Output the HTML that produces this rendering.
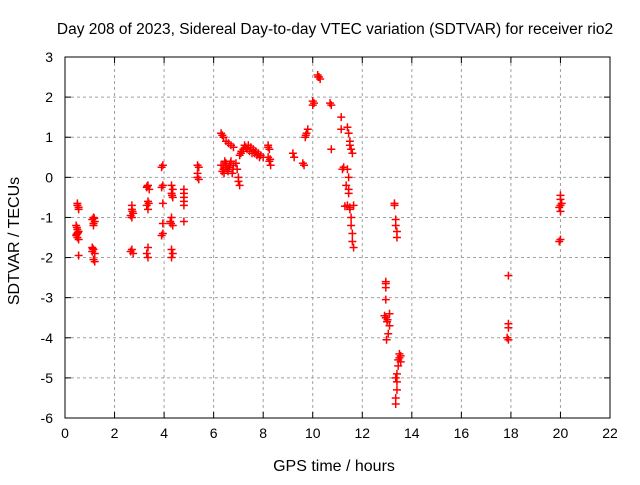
<!DOCTYPE html>
<html><head><meta charset="utf-8"><style>
body{margin:0;background:#fff;font-family:"Liberation Sans",sans-serif}
svg text{font-family:"Liberation Sans",sans-serif;fill:#000}
</style></head><body>
<svg id="c" width="640" height="480">
<rect width="640" height="480" fill="#fff"/>
<text x="335" y="34" font-size="15.5" text-anchor="middle">Day 208 of 2023, Sidereal Day-to-day VTEC variation (SDTVAR) for receiver rio2</text>
<text x="334" y="471" font-size="16" text-anchor="middle">GPS time / hours</text>
<text transform="translate(19,241) rotate(-90)" font-size="16" text-anchor="middle">SDTVAR / TECUs</text>
<g id="grid"></g><g id="pts"></g>
<rect x="65" y="57" width="545" height="361" fill="none" stroke="#000"/>
</svg>
<script>
const xTicks=[0,2,4,6,8,10,12,14,16,18,20,22];
const yTicks=[3,2,1,0,-1,-2,-3,-4,-5,-6];
const xs=[0.5,0.5,0.55,0.55,0.45,0.5,0.55,0.5,0.45,0.5,0.55,0.55,0.48,0.52,0.47,
1.15,1.1,1.2,1.15,1.1,1.15,1.1,1.2,1.15,1.2,1.15,1.12,1.18,
2.7,2.7,2.75,2.65,2.7,2.7,2.65,2.75,2.72,
3.35,3.3,3.4,3.35,3.3,3.35,3.35,3.3,3.35,3.38,3.32,
3.95,3.9,3.95,3.9,3.95,3.95,3.95,3.9,
4.3,4.35,4.3,4.35,4.3,4.25,4.35,4.3,4.35,4.3,4.32,4.28,
4.8,4.8,4.8,4.8,4.8,4.8,
5.35,5.4,5.35,5.35,5.4,
6.3,6.35,6.4,6.5,6.6,6.7,6.8,6.3,6.4,6.5,6.6,6.7,6.8,6.9,6.35,6.45,6.55,6.65,6.75,7.0,7.0,7.05,6.95,6.38,6.48,6.58,6.68,6.78,6.42,6.52,6.62,
7.1,7.2,7.3,7.4,7.5,7.6,7.7,7.8,7.9,8.0,7.15,7.25,7.35,7.45,7.55,7.65,7.75,7.85,7.05,7.12,
8.2,8.25,8.2,8.25,8.3,8.2,8.28,
9.2,9.25,9.6,9.65,9.7,9.75,9.8,9.72,
10.0,10.05,10.0,10.2,10.25,10.3,10.22,
10.7,10.75,10.75,
11.15,11.15,11.2,11.25,11.4,11.45,11.5,11.5,11.55,11.6,11.4,11.45,11.35,11.45,11.4,11.5,11.55,11.55,11.6,11.6,11.65,11.65,11.3,11.5,11.45,
13.3,13.3,13.35,13.35,13.4,13.4,
12.95,12.95,12.95,12.95,12.9,12.95,13.0,13.1,13.1,13.05,12.98,13.02,
13.5,13.55,13.5,13.55,13.45,13.4,13.4,13.4,13.35,13.35,13.35,13.45,
17.9,17.9,17.9,17.85,17.9,
20.0,20.0,20.05,20.0,19.95,20.0,20.0,19.95];
const ys=[-0.65,-0.7,-0.75,-0.8,-1.2,-1.3,-1.35,-1.4,-1.45,-1.5,-1.55,-1.95,-1.25,-1.38,-1.42,
-1.0,-1.05,-1.1,-1.15,-1.75,-1.8,-1.85,-1.9,-2.05,-2.1,-1.2,-1.78,-1.02,
-0.7,-0.8,-0.9,-0.95,-1.0,-1.8,-1.85,-1.9,-0.85,
-0.2,-0.25,-0.3,-0.6,-0.7,-0.8,-1.75,-1.9,-2.0,-0.65,-0.22,
0.3,0.25,-0.2,-0.25,-0.65,-1.15,-1.4,-1.45,
-0.2,-0.3,-0.4,-0.5,-1.0,-1.1,-1.2,-1.8,-1.9,-2.0,-0.45,-1.15,
-0.3,-0.4,-0.5,-0.6,-0.7,-1.1,
0.3,0.25,0.1,0.0,-0.05,
1.1,1.05,1.0,0.9,0.85,0.8,0.75,0.3,0.2,0.35,0.25,0.4,0.3,0.35,0.15,0.4,0.2,0.3,0.1,0.0,-0.1,-0.2,0.2,0.3,0.25,0.15,0.35,0.2,0.1,0.3,0.25,
0.6,0.7,0.75,0.8,0.75,0.7,0.65,0.6,0.55,0.5,0.65,0.8,0.7,0.65,0.6,0.6,0.55,0.5,0.55,0.65,
0.8,0.7,0.5,0.4,0.3,0.75,0.45,
0.6,0.5,0.35,0.3,1.0,1.1,1.2,1.05,
1.8,1.85,1.9,2.55,2.5,2.45,2.5,
1.85,1.8,0.7,
1.5,1.2,0.2,0.25,1.25,1.1,0.9,0.8,0.7,0.6,0.2,0.0,-0.2,-0.4,-0.7,-0.8,-1.0,-1.2,-1.4,-1.6,-1.75,-0.7,-0.72,-0.75,-0.3,
-0.65,-0.7,-1.05,-1.2,-1.35,-1.5,
-2.6,-2.65,-2.75,-3.05,-3.45,-3.5,-3.6,-3.4,-3.7,-3.9,-4.05,-3.55,
-4.4,-4.45,-4.5,-4.6,-4.7,-4.9,-5.1,-5.3,-5.5,-5.65,-5.0,-4.55,
-2.45,-3.65,-3.75,-4.0,-4.05,
-0.45,-0.55,-0.65,-0.7,-0.75,-0.85,-1.55,-1.6];
const X0=65,X1=610,Y0=418,Y1=57;
const sx=v=>X0+(v-0)/(22-0)*(X1-X0);
const sy=v=>Y0-(v+6)/(3+6)*(Y0-Y1);
const NS="http://www.w3.org/2000/svg";
const g=document.getElementById('grid'),p=document.getElementById('pts');
function mk(t,a,par){const e=document.createElementNS(NS,t);for(const k in a)e.setAttribute(k,a[k]);par.appendChild(e);return e;}
xTicks.forEach(t=>{const x=sx(t);
 if(t>0&&t<22){const l=mk('line',{x1:x,x2:x,y1:Y1,y2:Y0,stroke:'#a0a0a0','stroke-dasharray':'3,3'},g);
 
 }
 mk('line',{x1:x,x2:x,y1:Y0,y2:Y0-6,stroke:'#000'},g);mk('line',{x1:x,x2:x,y1:Y1,y2:Y1+6,stroke:'#000'},g);
 const tx=mk('text',{x:x,y:Y0+20,'font-size':14,'text-anchor':'middle'},g);tx.textContent=t;
 
 });
yTicks.forEach(t=>{const y=sy(t);
 if(t>-6&&t<3){const l=mk('line',{x1:X0,x2:X1,y1:y,y2:y,stroke:'#a0a0a0','stroke-dasharray':'3,3'},g);
 
 }
 mk('line',{x1:X0,x2:X0+6,y1:y,y2:y,stroke:'#000'},g);mk('line',{x1:X1,x2:X1-6,y1:y,y2:y,stroke:'#000'},g);
 const tx=mk('text',{x:X0-12,y:y+5,'font-size':14,'text-anchor':'end'},g);tx.textContent=t;
 
 });
xs.forEach((v,i)=>{const x=sx(v),y=sy(ys[i]);
 const e=mk('path',{d:`M${x-4},${y}H${x+4}M${x},${y-4}V${y+4}`,stroke:'#f00','stroke-width':1.5},p);
 
 });
</script>
</body></html>
